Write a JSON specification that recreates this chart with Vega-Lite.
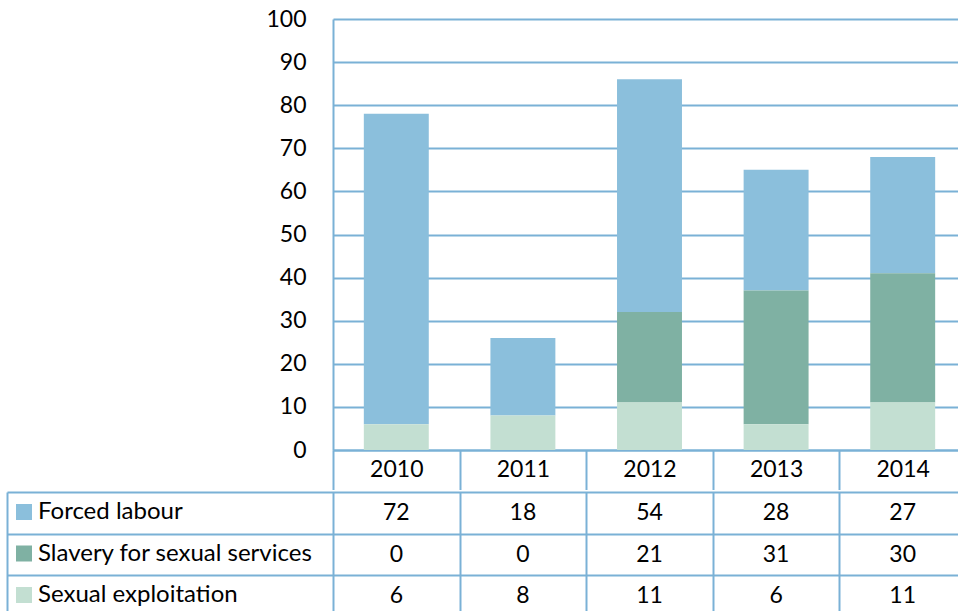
{
  "$schema": "https://vega.github.io/schema/vega-lite/v6.json",
  "autosize": {"type": "pad"},
  "padding": {"left": 6, "top": 8, "right": 0, "bottom": 0},
  "background": "#ffffff",
  "config": {"view": {"stroke": null}, "font": "Lato", "concat": {"spacing": 0}},
  "data": {"values": [
    {"year": "2010", "series": "Forced labour", "k": 3, "value": 72},
    {"year": "2011", "series": "Forced labour", "k": 3, "value": 18},
    {"year": "2012", "series": "Forced labour", "k": 3, "value": 54},
    {"year": "2013", "series": "Forced labour", "k": 3, "value": 28},
    {"year": "2014", "series": "Forced labour", "k": 3, "value": 27},
    {"year": "2010", "series": "Slavery for sexual services", "k": 2, "value": 0},
    {"year": "2011", "series": "Slavery for sexual services", "k": 2, "value": 0},
    {"year": "2012", "series": "Slavery for sexual services", "k": 2, "value": 21},
    {"year": "2013", "series": "Slavery for sexual services", "k": 2, "value": 31},
    {"year": "2014", "series": "Slavery for sexual services", "k": 2, "value": 30},
    {"year": "2010", "series": "Sexual exploitation", "k": 1, "value": 6},
    {"year": "2011", "series": "Sexual exploitation", "k": 1, "value": 8},
    {"year": "2012", "series": "Sexual exploitation", "k": 1, "value": 11},
    {"year": "2013", "series": "Sexual exploitation", "k": 1, "value": 6},
    {"year": "2014", "series": "Sexual exploitation", "k": 1, "value": 11}
  ]},
  "spacing": 0,
  "resolve": {"scale": {"x": "independent", "y": "independent"}},
  "vconcat": [
    {
      "width": 633,
      "height": 431,
      "mark": {"type": "bar", "width": {"band": 0.513}},
      "encoding": {
        "x": {
          "field": "year", "type": "ordinal",
          "scale": {"type": "band", "paddingInner": 0, "paddingOuter": 0},
          "axis": {"title": null, "labelAngle": 0, "labelFontSize": 23, "labelColor": "#000000",
            "domainColor": "#7AB1D6", "domainWidth": 2, "tickColor": "#7AB1D6", "tickWidth": 2,
            "tickSize": 39.5, "tickBand": "extent", "labelPadding": -31, "labelBaseline": "top", "grid": false}
        },
        "y": {
          "field": "value", "type": "quantitative", "stack": "zero",
          "scale": {"domain": [0, 100], "nice": false},
          "axis": {"title": null, "values": [0, 10, 20, 30, 40, 50, 60, 70, 80, 90, 100],
            "ticks": false, "labelPadding": 27, "labelFontSize": 23, "labelColor": "#000000",
            "domainColor": "#7AB1D6", "domainWidth": 2, "grid": true, "gridColor": "#7AB1D6", "gridWidth": 2}
        },
        "color": {
          "field": "series", "type": "nominal",
          "scale": {"domain": ["Forced labour", "Slavery for sexual services", "Sexual exploitation"],
                    "range": ["#8BBFDC", "#7FB1A3", "#C3DFD2"]},
          "legend": {"orient": "none", "legendX": -321, "legendY": 481, "title": null,
            "symbolType": "square", "symbolSize": 256, "symbolStrokeWidth": 0, "symbolOpacity": 1,
            "labelFontSize": 24, "labelFont": "Lato", "labelColor": "#000000", "labelLimit": 500,
            "labelOffset": 2, "rowPadding": 17.5, "padding": 0, "offset": 0}
        },
        "order": {"field": "k", "type": "quantitative"}
      }
    },
    {
      "width": 633,
      "height": 125,
      "mark": {"type": "text", "fontSize": 23, "color": "#000000", "baseline": "middle"},
      "encoding": {
        "x": {
          "field": "year", "type": "ordinal",
          "scale": {"type": "band", "paddingInner": 0, "paddingOuter": 0},
          "axis": {"title": null, "labels": false, "ticks": false, "domain": false,
            "grid": true, "tickBand": "extent", "gridColor": "#7AB1D6", "gridWidth": 2}
        },
        "y": {
          "field": "series", "type": "nominal",
          "scale": {"type": "band", "domain": ["Forced labour", "Slavery for sexual services", "Sexual exploitation"], "paddingInner": 0, "paddingOuter": 0},
          "axis": {"title": null, "labels": false, "offset": 326, "tickSize": -980, "tickBand": "extent",
            "tickColor": "#7AB1D6", "tickWidth": 2, "domainColor": "#7AB1D6", "domainWidth": 2, "grid": false}
        },
        "text": {"field": "value", "type": "quantitative"}
      }
    }
  ]
}
